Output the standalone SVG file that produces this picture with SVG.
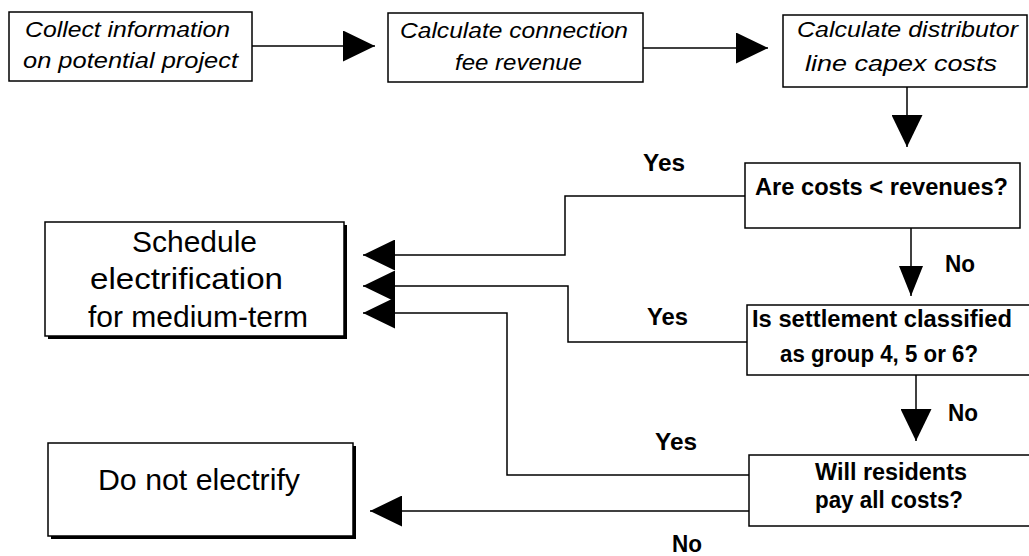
<svg xmlns="http://www.w3.org/2000/svg" width="1029" height="556" viewBox="0 0 1029 556">
  <style>
    .box { fill: #fff; stroke: #000; stroke-width: 1.5; }
    .shadow { fill: #000; }
    .link { fill: none; stroke: #000; stroke-width: 1.5; }
    text { font-family: "Liberation Sans", Arial, sans-serif; fill: #000; }
    .step { font-size: 22px; font-style: italic; }
    .outcome { font-size: 30px; }
    .question { font-size: 23px; font-weight: bold; }
    .label { font-size: 23px; font-weight: bold; }
  </style>
  <defs>
    <marker id="head" markerUnits="userSpaceOnUse" markerWidth="32" markerHeight="31" refX="32" refY="15.5" orient="auto">
      <path d="M0,0 L32,15.5 L0,31 Z" fill="#000"/>
    </marker>
    <marker id="head-narrow" markerUnits="userSpaceOnUse" markerWidth="30" markerHeight="24" refX="30" refY="12" orient="auto">
      <path d="M0,0 L30,12 L0,24 Z" fill="#000"/>
    </marker>
  </defs>

  <!-- connectors -->
  <g id="connectors">
    <path class="link" d="M252,46 H375" marker-end="url(#head)"/>
    <path class="link" d="M643,48 H768" marker-end="url(#head)"/>
    <path class="link" d="M907,87 V147" marker-end="url(#head)"/>
    <path class="link" d="M745,196 H565 V255 H363" marker-end="url(#head)"/>
    <path class="link" d="M911,228 V296" marker-end="url(#head-narrow)"/>
    <path class="link" d="M747,342 H568 V286 H363" marker-end="url(#head)"/>
    <path class="link" d="M916,375 V441" marker-end="url(#head)"/>
    <path class="link" d="M749,475 H507 V313 H363" marker-end="url(#head)"/>
    <path class="link" d="M749,511 H370" marker-end="url(#head)"/>
  </g>

  <!-- process steps -->
  <g id="collect-info">
    <rect class="box" x="9" y="12" width="243" height="69"/>
    <text class="step" x="25" y="37" textLength="205" lengthAdjust="spacingAndGlyphs">Collect information</text>
    <text class="step" x="23" y="68" textLength="215" lengthAdjust="spacingAndGlyphs">on potential project</text>
  </g>
  <g id="connection-fee">
    <rect class="box" x="388" y="13" width="255" height="69"/>
    <text class="step" x="400" y="38" textLength="228" lengthAdjust="spacingAndGlyphs">Calculate connection</text>
    <text class="step" x="455" y="70" textLength="127" lengthAdjust="spacingAndGlyphs">fee revenue</text>
  </g>
  <g id="capex-costs">
    <rect class="box" x="783" y="15" width="244" height="72"/>
    <text class="step" x="797" y="37" textLength="221" lengthAdjust="spacingAndGlyphs">Calculate distributor</text>
    <text class="step" x="805" y="71" textLength="192" lengthAdjust="spacingAndGlyphs">line capex costs</text>
  </g>

  <!-- decisions -->
  <g id="costs-vs-revenues">
    <rect class="box" x="745" y="163" width="275" height="65"/>
    <text class="question" x="755" y="195" textLength="253" lengthAdjust="spacingAndGlyphs">Are costs &lt; revenues?</text>
  </g>
  <g id="settlement-group">
    <rect class="box" x="747" y="305" width="290" height="70"/>
    <text class="question" x="752" y="327" textLength="260" lengthAdjust="spacingAndGlyphs">Is settlement classified</text>
    <text class="question" x="780" y="362" textLength="198" lengthAdjust="spacingAndGlyphs">as group 4, 5 or 6?</text>
  </g>
  <g id="residents-pay">
    <rect class="box" x="749" y="455" width="290" height="71"/>
    <text class="question" x="815" y="480" textLength="152" lengthAdjust="spacingAndGlyphs">Will residents</text>
    <text class="question" x="815" y="508" textLength="148" lengthAdjust="spacingAndGlyphs">pay all costs?</text>
  </g>

  <!-- outcomes -->
  <g id="schedule-medium-term">
    <rect class="shadow" x="48" y="225" width="299" height="114"/>
    <rect class="box" x="45" y="222" width="299" height="114"/>
    <text class="outcome" x="132" y="252" textLength="125" lengthAdjust="spacingAndGlyphs">Schedule</text>
    <text class="outcome" x="90" y="289" textLength="193" lengthAdjust="spacingAndGlyphs">electrification</text>
    <text class="outcome" x="88" y="327" textLength="220" lengthAdjust="spacingAndGlyphs">for medium-term</text>
  </g>
  <g id="do-not-electrify">
    <rect class="shadow" x="51" y="446" width="305" height="93"/>
    <rect class="box" x="48" y="443" width="305" height="93"/>
    <text class="outcome" x="98" y="490" textLength="202" lengthAdjust="spacingAndGlyphs">Do not electrify</text>
  </g>

  <!-- branch labels -->
  <g id="branch-labels">
    <text class="label" x="643" y="171" textLength="42" lengthAdjust="spacingAndGlyphs">Yes</text>
    <text class="label" x="945" y="272" textLength="30" lengthAdjust="spacingAndGlyphs">No</text>
    <text class="label" x="647" y="325" textLength="41" lengthAdjust="spacingAndGlyphs">Yes</text>
    <text class="label" x="948" y="421" textLength="30" lengthAdjust="spacingAndGlyphs">No</text>
    <text class="label" x="655" y="450" textLength="42" lengthAdjust="spacingAndGlyphs">Yes</text>
    <text class="label" x="672" y="552" textLength="30" lengthAdjust="spacingAndGlyphs">No</text>
  </g>
</svg>
